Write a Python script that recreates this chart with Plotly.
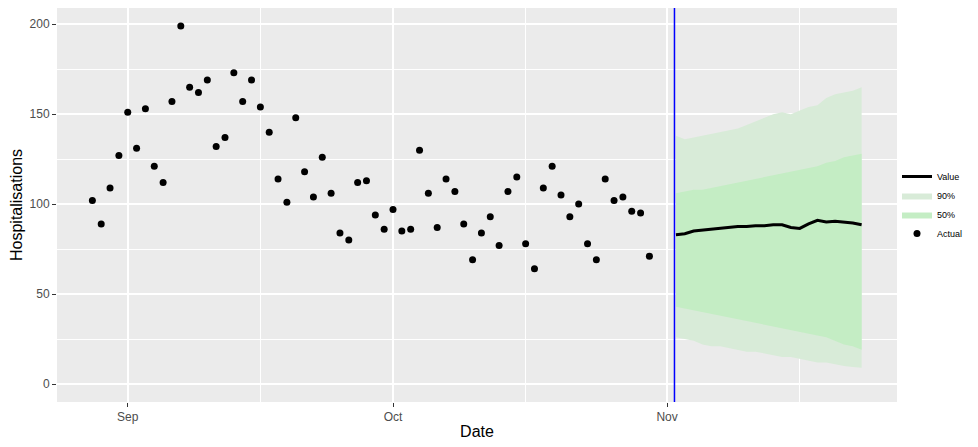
import pandas as pd
import plotly.graph_objects as go

# observed hospitalisations
actual_start = "2020-08-28"
actual_values = [102, 89, 109, 127, 151, 131, 153, 121, 112, 157, 199, 165, 162, 169,
                 132, 137, 173, 157, 169, 154, 140, 114, 101, 148, 118, 104, 126, 106,
                 84, 80, 112, 113, 94, 86, 97, 85, 86, 130, 106, 87, 114, 107, 89, 69,
                 84, 93, 77, 107, 115, 78, 64, 109, 121, 105, 93, 100, 78, 69, 114, 102,
                 104, 96, 95, 71]

# forecast
fc_start = "2020-11-02"
fc_median = [83, 83.5, 85, 85.5, 86, 86.5, 87, 87.5, 87.5, 88, 88, 88.5, 88.5, 87, 86.5,
             89, 91, 90, 90.5, 90, 89.5, 88.5]
fc_lo90 = [26, 25, 24, 22, 21, 21, 20, 19, 18, 18, 17, 16, 15, 15, 14, 13, 12, 12, 11, 10, 9.5, 9]
fc_hi90 = [138, 136, 137, 138, 139, 140, 141, 142, 144, 146, 148, 150, 151, 150, 152, 154, 155,
           159, 161, 162, 163, 165]
fc_lo50 = [43, 42, 41, 40, 39, 38, 37, 36, 35, 34, 33, 32, 31, 30, 29, 28, 27, 26, 24, 22, 21, 19]
fc_hi50 = [106, 107, 108, 108, 109, 110, 111, 112, 113, 114, 115, 116, 117, 118, 119, 120, 121,
           123, 124, 126, 127, 128]
vline_date = "2020-11-01 20:00"

x_act = pd.date_range(actual_start, periods=len(actual_values), freq="D")
x_fc = pd.date_range(fc_start, periods=len(fc_median), freq="D")
x_poly = list(x_fc) + list(x_fc[::-1])

fig = go.Figure()
fig.add_trace(go.Scatter(x=x_poly, y=fc_hi90 + fc_lo90[::-1], fill="toself",
                         fillcolor="#D8EBD8", line=dict(width=0), name="90%",
                         legendrank=2))
fig.add_trace(go.Scatter(x=x_poly, y=fc_hi50 + fc_lo50[::-1], fill="toself",
                         fillcolor="#C4EDC4", line=dict(width=0), name="50%",
                         legendrank=3))
fig.add_trace(go.Scatter(x=x_fc, y=fc_median, mode="lines", name="Value",
                         line=dict(color="black", width=3), legendrank=1))
fig.add_trace(go.Scatter(x=x_act, y=actual_values, mode="markers", name="Actual",
                         marker=dict(color="black", size=7), legendrank=4))

fig.add_vline(x=pd.Timestamp(vline_date).timestamp() * 1000, line=dict(color="blue", width=1.5))

# the page body adds an 8px offset, margins below compensate for it
fig.update_layout(
    width=978, height=447,
    margin=dict(l=49, r=89, t=0, b=53),
    paper_bgcolor="white", plot_bgcolor="#EBEBEB",
    font=dict(family="Arial, Liberation Sans, sans-serif", color="#4D4D4D"),
    legend=dict(x=1.0, xanchor="left", y=0.5, yanchor="middle",
                font=dict(size=9, color="black"), tracegroupgap=0, itemwidth=30),
    showlegend=True,
)
fig.update_xaxes(
    range=["2020-08-24", "2020-11-27"], automargin=False,
    tickvals=["2020-09-01", "2020-10-01", "2020-11-01"], ticktext=["Sep", "Oct", "Nov"],
    ticks="outside", ticklen=4, tickcolor="#333333", tickfont=dict(size=12),
    gridcolor="white", gridwidth=1.5, zeroline=False,
    minor=dict(tickvals=["2020-09-16", "2020-10-16", "2020-11-16"], gridcolor="white", gridwidth=0.7),
    title=dict(text="Date", font=dict(size=16, color="black"), standoff=2),
)
fig.update_yaxes(
    range=[-10, 209], tickvals=[0, 50, 100, 150, 200], automargin=False,
    ticks="outside", ticklen=4, tickcolor="#333333", tickfont=dict(size=12),
    gridcolor="white", gridwidth=1.5, zeroline=False,
    minor=dict(tickvals=[25, 75, 125, 175], gridcolor="white", gridwidth=0.7),
    title=dict(text="Hospitalisations", font=dict(size=16, color="black"), standoff=2),
)

fig.write_html("out.html")
